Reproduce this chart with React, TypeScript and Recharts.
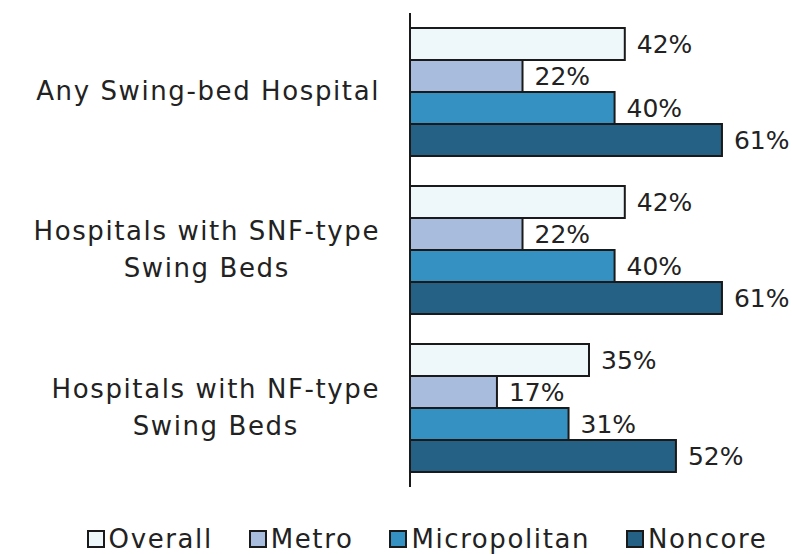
import { Bar, BarChart, LabelList, Legend, XAxis, YAxis } from "recharts";

const FONT = "DejaVu Sans";
const TEXT_COLOR = "#222222";
const STROKE = "#1a1a1a";

const categories = [
  "Any Swing-bed Hospital",
  "Hospitals with SNF-type\nSwing Beds",
  "Hospitals with NF-type\nSwing Beds",
];
const overall = [42, 42, 35];
const metro = [22, 22, 17];
const micropolitan = [40, 40, 31];
const noncore = [61, 61, 52];

const seriesNames = ["Overall", "Metro", "Micropolitan", "Noncore"];
const seriesColors = ["#eef7f9", "#a8bddd", "#3591c1", "#246184"];

const data = categories.map((name, i) => ({
  name,
  Overall: overall[i],
  Metro: metro[i],
  Micropolitan: micropolitan[i],
  Noncore: noncore[i],
}));

const FONT_SIZE = 26;
const SPACING = 1.6;

function textWidth(s: string) {
  const ctx = document.createElement("canvas").getContext("2d");
  if (!ctx) return s.length * 15;
  ctx.font = `${FONT_SIZE}px "${FONT}"`;
  return ctx.measureText(s).width + s.length * SPACING;
}

function CategoryTick({ x, y, payload }: any) {
  const lines = String(payload.value).split("\n");
  const widest = Math.max(...lines.map(textWidth));
  const cx = x - 22 - widest / 2;
  const lineH = 37;
  const startY = y - 1 - ((lines.length - 1) * lineH) / 2;
  return (
    <text
      textAnchor="middle"
      fill={TEXT_COLOR}
      fontSize={FONT_SIZE}
      fontFamily={FONT}
      letterSpacing={SPACING}
    >
      {lines.map((line, i) => (
        <tspan key={i} x={cx} y={startY + i * lineH} dy="0.36em">
          {line}
        </tspan>
      ))}
    </text>
  );
}

function ChartLegend() {
  return (
    <div
      style={{
        height: 67,
        boxSizing: "border-box",
        paddingLeft: 86,
        display: "flex",
        justifyContent: "center",
        alignItems: "flex-end",
        gap: 36,
        fontFamily: FONT,
        fontSize: FONT_SIZE,
        letterSpacing: SPACING,
        color: TEXT_COLOR,
        lineHeight: "30px",
      }}
    >
      {seriesNames.map((n, i) => (
        <div key={n} style={{ display: "flex", alignItems: "center" }}>
          <span
            style={{
              width: 14,
              height: 14,
              border: `2px solid ${STROKE}`,
              background: seriesColors[i],
              marginRight: 4,
              display: "inline-block",
            }}
          />
          {n}
        </div>
      ))}
    </div>
  );
}

export default function App() {
  return (
    <div style={{ position: "absolute", left: 0, top: 0 }}>
      <BarChart
        width={792}
        height={554}
        data={data}
        layout="vertical"
        margin={{ top: 13, right: 24, bottom: 0, left: 0 }}
        barCategoryGap={15}
        barGap={0}
      >
        <XAxis type="number" domain={[0, 70]} hide />
        <YAxis
          type="category"
          dataKey="name"
          width={410}
          axisLine={{ stroke: STROKE, strokeWidth: 2 }}
          tickLine={false}
          tick={<CategoryTick />}
          interval={0}
        />
        <Legend verticalAlign="bottom" content={<ChartLegend />} />
        {seriesNames.map((n, i) => (
          <Bar
            key={n}
            dataKey={n}
            fill={seriesColors[i]}
            stroke={STROKE}
            strokeWidth={2}
            isAnimationActive={false}
          >
            <LabelList
              dataKey={n}
              position="right"
              offset={12}
              formatter={(v: any) => `${v}%`}
              fill={TEXT_COLOR}
              fontSize={25}
              fontFamily={FONT}
            />
          </Bar>
        ))}
      </BarChart>
    </div>
  );
}
